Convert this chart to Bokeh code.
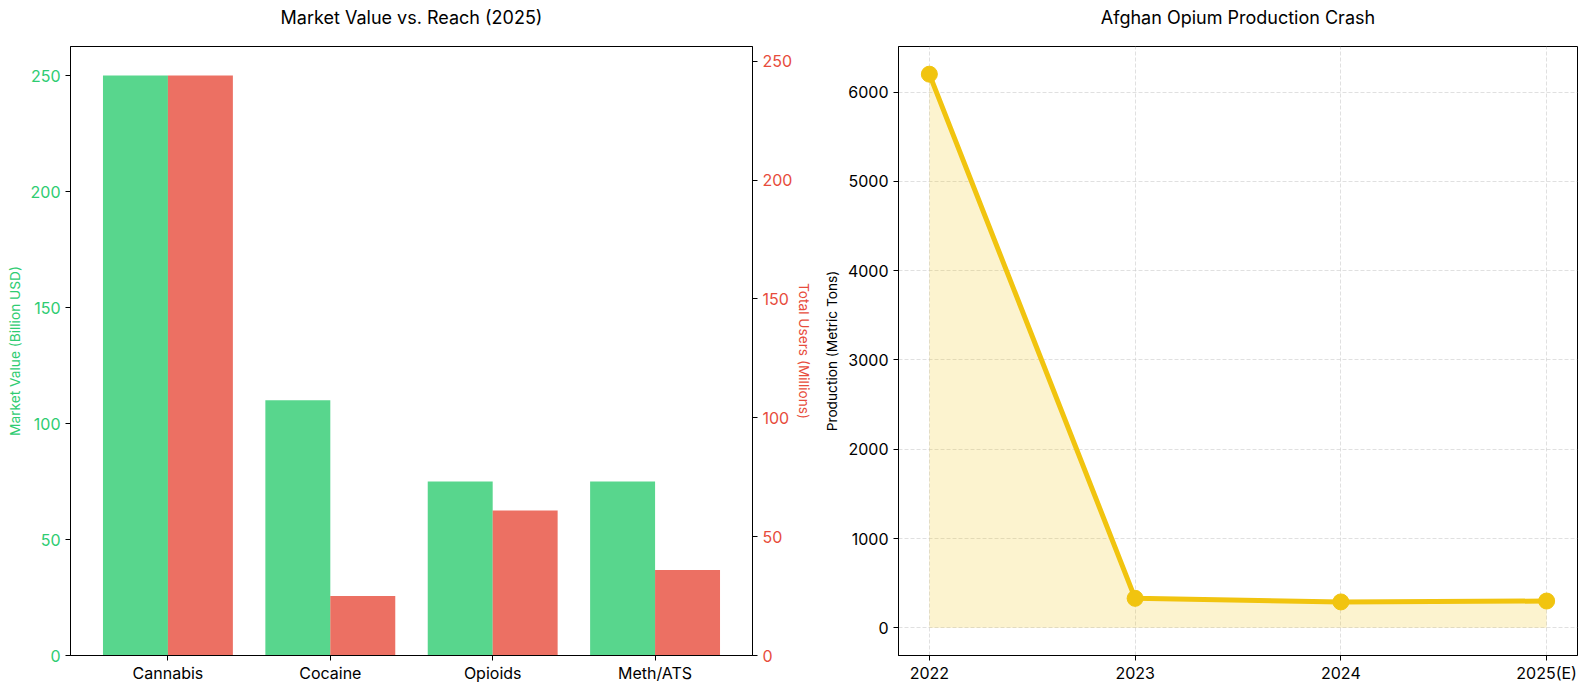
from bokeh.plotting import figure
from bokeh.models import Range1d, LinearAxis, FixedTicker, Title
from bokeh.layouts import row
from bokeh.embed import file_html
from bokeh.resources import INLINE

# ---- data ----
drugs = ["Cannabis", "Cocaine", "Opioids", "Meth/ATS"]
market_value = [250, 110, 75, 75]      # Billion USD
total_users = [244, 25, 61, 36]        # Millions

years = ["2022", "2023", "2024", "2025(E)"]
production = [6200, 330, 290, 300]     # Metric tons

titles = ["Market Value vs. Reach (2025)", "Afghan Opium Production Crash"]

FONT = "Inter"
GREEN = "#2ecc71"
RED = "#e74c3c"
YELLOW = "#f1c40f"
FH = 609

# ---- left: market value vs reach ----
xs = list(range(len(drugs)))
p1 = figure(frame_width=682, frame_height=FH, min_border_left=70, min_border_right=68,
            min_border_top=46, min_border_bottom=43,
            x_range=Range1d(-0.6, 3.6), y_range=Range1d(0, 262.5),
            output_backend="svg", toolbar_location=None)
p1.extra_y_ranges = {"users": Range1d(0, max(total_users) * 1.05)}

p1.vbar(x=[x - 0.2 for x in xs], top=market_value, width=0.4, bottom=0,
        fill_color=GREEN, fill_alpha=0.8, line_color=None)
p1.vbar(x=[x + 0.2 for x in xs], top=total_users, width=0.4, bottom=0,
        fill_color=RED, fill_alpha=0.8, line_color=None, y_range_name="users")

ax_r = LinearAxis(y_range_name="users", axis_label="Total Users (Millions)")
p1.add_layout(ax_r, "right")

p1.xaxis.ticker = FixedTicker(ticks=xs)
p1.xaxis.major_label_overrides = {i: d for i, d in enumerate(drugs)}
p1.yaxis[0].ticker = FixedTicker(ticks=[0, 50, 100, 150, 200, 250])
ax_r.ticker = FixedTicker(ticks=[0, 50, 100, 150, 200, 250])
p1.yaxis[0].axis_label = "Market Value (Billion USD)"
p1.yaxis[0].major_label_text_color = GREEN
p1.yaxis[0].axis_label_text_color = GREEN
ax_r.major_label_text_color = RED
ax_r.axis_label_text_color = RED
p1.xgrid.visible = False
p1.ygrid.visible = False

# ---- right: Afghan opium ----
yx = list(range(len(years)))
p2 = figure(frame_width=679, frame_height=FH, min_border_left=77, min_border_right=29,
            min_border_top=46, min_border_bottom=43,
            x_range=Range1d(-0.15, 3.15), y_range=Range1d(-310, 6510),
            output_backend="svg", toolbar_location=None)
p2.varea(x=yx, y1=[0] * len(yx), y2=production, fill_color=YELLOW, fill_alpha=0.2)
p2.line(yx, production, line_color=YELLOW, line_width=5)
p2.scatter(yx, production, size=16, fill_color=YELLOW, line_color=YELLOW)
p2.xaxis.ticker = FixedTicker(ticks=yx)
p2.xaxis.major_label_overrides = {i: y for i, y in enumerate(years)}
p2.yaxis.ticker = FixedTicker(ticks=[0, 1000, 2000, 3000, 4000, 5000, 6000])
p2.yaxis.axis_label = "Production (Metric Tons)"
for g in (p2.xgrid, p2.ygrid):
    g.grid_line_color = "#cccccc"
    g.grid_line_alpha = 0.6
    g.grid_line_dash = "4 2"

for p, t in zip((p1, p2), titles):
    # spacer between frame and title
    p.add_layout(Title(text=" ", text_font_size="2px", standoff=15), "above")
    p.add_layout(Title(text=t, align="center", vertical_align="bottom", standoff=0,
                       text_font=FONT, text_font_size="18px",
                       text_font_style="normal", text_color="black"), "above")
    p.outline_line_color = "black"
    p.outline_line_alpha = 1
    p.outline_line_width = 1
    p.background_fill_color = "white"
    for ax in p.xaxis + p.yaxis:
        ax.axis_line_color = "black"
        ax.major_tick_line_color = "black"
        ax.major_tick_out = 5
        ax.major_tick_in = 0
        ax.minor_tick_line_color = None
        ax.major_label_text_font = FONT
        ax.major_label_text_font_size = "16px"
        ax.axis_label_text_font = FONT
        ax.axis_label_text_font_size = "13.7px"
        ax.axis_label_text_font_style = "normal"
        ax.major_label_standoff = 5
    for ax in p.xaxis:
        ax.major_label_text_color = "black"
        ax.major_label_standoff = 2

ax_r.axis_label_standoff = 1
p2.yaxis.major_label_text_color = "black"
p2.yaxis.axis_label_text_color = "black"

layout = row(p1, p2)
open("out.html", "w").write(file_html(layout, INLINE))
